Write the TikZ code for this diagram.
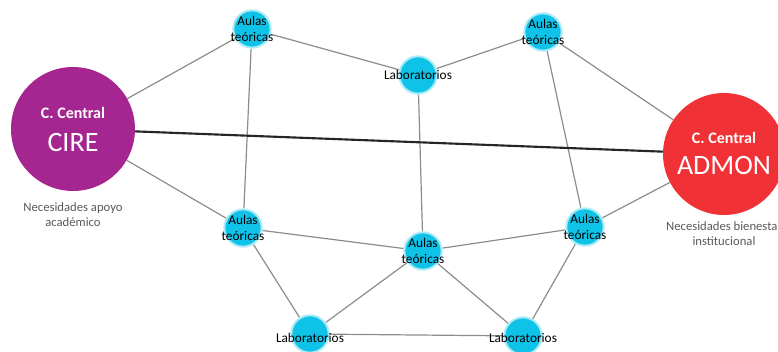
\documentclass[tikz,border=0pt]{standalone}
\usepackage{fontspec}
\setmainfont{Carlito}
\usetikzlibrary{backgrounds}
\definecolor{cirecolor}{RGB}{166,38,145}
\definecolor{admoncolor}{RGB}{240,50,55}
\definecolor{salacolor}{RGB}{15,195,232}
\tikzstyle{sala} = [circle, fill=salacolor, draw=salacolor!35, line width=1.5pt, minimum size=28pt, inner sep=0pt]
\tikzstyle{etiqueta} = [align=center, font=\fontsize{10}{12.5}\selectfont, text=black, inner sep=0pt]
\tikzstyle{centro} = [circle, inner sep=0pt, minimum size=93pt]
\tikzstyle{titulo} = [text=white, font=\bfseries\fontsize{12}{14}\selectfont, inner sep=0pt]
\tikzstyle{sigla} = [text=white, font=\fontsize{21}{24}\selectfont, inner sep=0pt]
\tikzstyle{nota} = [align=center, font=\fontsize{9.5}{11.3}\selectfont, text=black!65, inner sep=0pt]
\tikzstyle{enlace} = [draw=black!45, line width=0.9pt]

\begin{document}
\begin{tikzpicture}[x=0.75pt,y=-0.75pt]
\useasboundingbox (0,0) rectangle (778,352);

% centros
\node[centro, fill=cirecolor] (cire) at (73,129) {};
\node[centro, fill=admoncolor, minimum size=91.5pt] (admon) at (724,154) {};
\node[titulo] at (73,113) {C. Central};
\node[sigla] at (73,143) {CIRE};
\node[titulo] at (724,138) {C. Central};
\node[sigla] at (724,166) {ADMON};
\node[nota] at (73,215) {Necesidades apoyo\\académico};
\node[nota, anchor=north] at (724,221) {Necesidades bienestar\\institucional};

% salas
\node[sala] (a1) at (252,29) {};
\node[sala] (l1) at (418,75) {};
\node[sala] (a2) at (543,32) {};
\node[sala] (a3) at (243,228) {};
\node[sala] (a4) at (423,251) {};
\node[sala] (a5) at (585,227) {};
\node[sala] (l2) at (310,334) {};
\node[sala] (l3) at (523,336) {};

\node[etiqueta] at (a1) {Aulas\\teóricas};
\node[etiqueta] at (l1) {Laboratorios};
\node[etiqueta] at (a2) {Aulas\\teóricas};
\node[etiqueta] at (a3) {Aulas\\teóricas};
\node[etiqueta] at (a4) {Aulas\\teóricas};
\node[etiqueta] at (a5) {Aulas\\teóricas};
\node[etiqueta] at (310,338) {Laboratorios};
\node[etiqueta] at (523,338) {Laboratorios};

% enlaces
\begin{scope}[on background layer]
\draw[enlace] (cire) -- (a1);
\draw[enlace] (a1) -- (l1);
\draw[enlace] (l1) -- (a2);
\draw[enlace] (a2) -- (admon);
\draw[enlace] (cire) -- (a3);
\draw[enlace] (a1) -- (a3);
\draw[enlace] (l1) -- (a4);
\draw[enlace] (a2) -- (a5);
\draw[enlace] (a5) -- (admon);
\draw[enlace] (a3) -- (a4);
\draw[enlace] (a4) -- (a5);
\draw[enlace] (a3) -- (l2);
\draw[enlace] (a4) -- (l2);
\draw[enlace] (a4) -- (l3);
\draw[enlace] (l3) -- (a5);
\draw[enlace] (l2) -- (l3);
\draw[draw=black!85, line width=1.6pt] (cire) -- (admon);
\end{scope}

\end{tikzpicture}
\end{document}
